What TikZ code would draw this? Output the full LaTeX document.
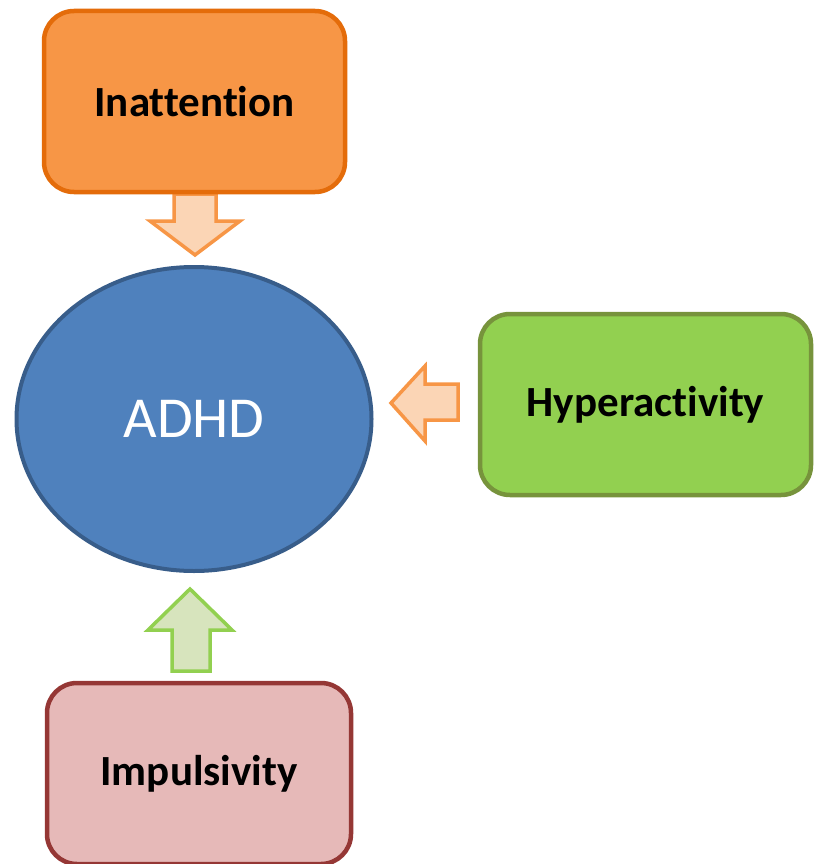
\documentclass[tikz,border=0pt]{standalone}
\usepackage{fontspec}
\setmainfont[Ligatures=NoCommon]{Carlito}
\definecolor{inafill}{HTML}{F79646}
\definecolor{inadraw}{HTML}{E46C0A}
\definecolor{hypfill}{HTML}{92D050}
\definecolor{hypdraw}{HTML}{77933C}
\definecolor{impfill}{HTML}{E6B9B8}
\definecolor{impdraw}{HTML}{953735}
\definecolor{adfill}{HTML}{4F81BD}
\definecolor{addraw}{HTML}{385D8A}
\definecolor{oarrfill}{HTML}{FBD5B5}
\definecolor{oarrdraw}{HTML}{F79646}
\definecolor{garrfill}{HTML}{D7E4BD}
\definecolor{garrdraw}{HTML}{92D050}
\tikzset{
  box/.style={rounded corners=30pt, line width=4.5pt, minimum width=301pt, minimum height=181pt,
    font=\fontsize{43}{50}\selectfont\bfseries, text=black},
  blockarrow/.style={line width=3.5pt, line join=miter},
}
\begin{document}
\begin{tikzpicture}[x=1pt,y=-1pt]
\useasboundingbox (0,0) rectangle (815,864);
\begin{scope}
\clip (0,0) rectangle (815,864);
% block arrows
\coordinate (a1) at (195,194);
\draw[blockarrow, draw=oarrdraw, fill=oarrfill] (174,194) -- (216,194) -- (216,221) -- (240,221) -- (195,255) -- (150,221) -- (174,221) -- cycle;
\coordinate (a2) at (458,403);
\draw[blockarrow, draw=oarrdraw, fill=oarrfill] (391,403) -- (425,366) -- (425,384) -- (458,384) -- (458,420) -- (425,420) -- (425,441) -- cycle;
\coordinate (a3) at (190,671);
\draw[blockarrow, draw=garrdraw, fill=garrfill] (190,589) -- (232,630) -- (210,630) -- (210,671) -- (172,671) -- (172,630) -- (148,630) -- cycle;
% nodes
\node[box, draw=inadraw, fill=inafill] (ina) at (194.5,101.5) {Inattention};
\node[box, draw=hypdraw, fill=hypfill, minimum width=331pt] (hyp) at (645.5,404.5) {Hyperactivity};
\node[box, draw=impdraw, fill=impfill, minimum width=304pt] (imp) at (199,773.5) {Impulsivity};
\draw[line width=4pt, draw=addraw, fill=adfill] (194,419) ellipse [x radius=177.5, y radius=152];
\node[text=white, font=\fontsize{58}{66}\selectfont] (adhd) at (194,419) {ADHD};
\end{scope}
\end{tikzpicture}
\end{document}
